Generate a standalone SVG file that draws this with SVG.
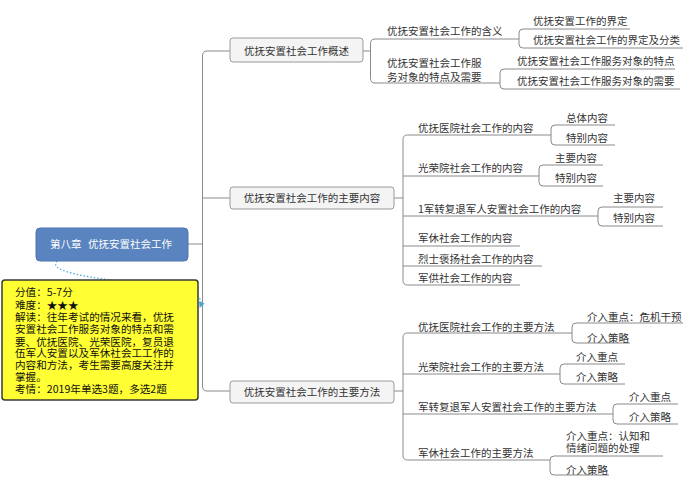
<svg xmlns="http://www.w3.org/2000/svg" width="694" height="481" viewBox="0 0 694 481">
<style>
text{font-family:"Noto Sans CJK SC","Noto Sans",sans-serif;font-size:10.5px;fill:#333}
.ln{fill:none;stroke:#8a8a8a;stroke-width:1}
.l1 rect{fill:#f4f4f4;stroke:#9a9a9a;stroke-width:1}
.note text{font-size:10.6px;fill:#111}
</style>
<defs>
<marker id="ah" markerWidth="6" markerHeight="6" refX="5" refY="3" orient="auto" markerUnits="userSpaceOnUse">
<path d="M0,0 L6,3 L0,6 Z" fill="#4aa3d8"/>
</marker>
</defs>
<rect width="694" height="481" fill="#fff"/>

<g id="connectors">
<path class="ln" d="M188 244 H202.5"/>
<path class="ln" d="M230 51 H207 Q202.5 51 202.5 56 V386 Q202.5 391 207 391 H230 M202.5 198 H230"/>
<path class="ln" d="M363 51 H370.5"/>
<path class="ln" d="M519 39 H375 Q370.5 39 370.5 43.5 V78.5 Q370.5 83 375 83 H500"/>
<path class="ln" d="M630 29 H523 Q519 29 519 33 V44 Q519 48 523 48 H683"/>
<path class="ln" d="M675 69 H504 Q500 69 500 73 V85 Q500 89 504 89 H680"/>
<path class="ln" d="M394 198 H403"/>
<path class="ln" d="M551 135 H407.5 Q403 135 403 139.5 V280.5 Q403 285 407.5 285 H520"/>
<path class="ln" d="M403 176 H539 M403 216 H598 M403 246 H520 M403 266 H542"/>
<path class="ln" d="M615 125 H555 Q551 125 551 129 V141 Q551 145 555 145 H615"/>
<path class="ln" d="M603 165 H543 Q539 165 539 169 V182 Q539 186 543 186 H603"/>
<path class="ln" d="M663 207 H602 Q598 207 598 211 V222 Q598 226 602 226 H663"/>
<path class="ln" d="M394 391 H403"/>
<path class="ln" d="M572 333 H407.5 Q403 333 403 337.5 V455.5 Q403 460 407.5 460 H550"/>
<path class="ln" d="M403 374 H560 M403 414 H613"/>
<path class="ln" d="M683 323 H576 Q572 323 572 327 V339 Q572 343 576 343 H630"/>
<path class="ln" d="M625 364 H564 Q560 364 560 368 V380 Q560 384 564 384 H625"/>
<path class="ln" d="M678 404 H617 Q613 404 613 408 V420 Q613 424 617 424 H678"/>
<path class="ln" d="M663 456 H554 Q550 456 550 460 V471 Q550 475 554 475 H609"/>
<path d="M57 261 C47 272, 90 278, 150 285 C190 290, 205 294, 200 307" fill="none" stroke="#4aa3d8" stroke-width="1.2" stroke-dasharray="1.5 2" marker-end="url(#ah)"/>
</g>

<g id="root">
<rect x="36" y="228" width="152" height="33" rx="4" fill="#5a84c0" stroke="#4d77b0"/>
<text x="50" y="248" style="fill:#fff">第八章</text>
<text x="88" y="248" style="fill:#fff">优抚安置社会工作</text>
</g>

<g id="note" class="note">
<rect x="2" y="280" width="196" height="120" rx="3" fill="#ffff33" stroke="#3a3a3a" stroke-width="1.5"/>
<text x="15" y="296">分值：5-7分</text>
<text x="15" y="309">难度：★★★</text>
<text x="15" y="321">解读：往年考试的情况来看，优抚</text>
<text x="15" y="333">安置社会工作服务对象的特点和需</text>
<text x="15" y="345.5">要、优抚医院、光荣医院，复员退</text>
<text x="15" y="357">伍军人安置以及军休社会工工作的</text>
<text x="15" y="369">内容和方法，考生需要高度关注并</text>
<text x="15" y="381">掌握。</text>
<text x="15" y="392.5">考情：2019年单选3题，多选2题</text>
</g>

<g id="n1" class="l1">
<rect x="230" y="38" width="133" height="24" rx="3"/>
<text x="296.5" y="55" text-anchor="middle">优抚安置社会工作概述</text>
</g>
<g id="n2" class="l1">
<rect x="230" y="187" width="164" height="22" rx="3"/>
<text x="312" y="202" text-anchor="middle">优抚安置社会工作的主要内容</text>
</g>
<g id="n3" class="l1">
<rect x="230" y="381" width="164" height="22" rx="3"/>
<text x="312" y="396" text-anchor="middle">优抚安置社会工作的主要方法</text>
</g>

<g id="n1a"><text x="387" y="35">优抚安置社会工作的含义</text></g>
<g id="n1a1"><text x="533" y="25">优抚安置工作的界定</text></g>
<g id="n1a2"><text x="533" y="44">优抚安置社会工作的界定及分类</text></g>
<g id="n1b"><text x="387" y="67">优抚安置社会工作服</text><text x="387" y="81">务对象的特点及需要</text></g>
<g id="n1b1"><text x="517" y="65">优抚安置社会工作服务对象的特点</text></g>
<g id="n1b2"><text x="517" y="85">优抚安置社会工作服务对象的需要</text></g>

<g id="n2a"><text x="418" y="132">优抚医院社会工作的内容</text></g>
<g id="n2a1"><text x="566" y="122">总体内容</text></g>
<g id="n2a2"><text x="566" y="142">特别内容</text></g>
<g id="n2b"><text x="418" y="172">光荣院社会工作的内容</text></g>
<g id="n2b1"><text x="555" y="162">主要内容</text></g>
<g id="n2b2"><text x="555" y="182">特别内容</text></g>
<g id="n2c"><text x="418" y="213">1军转复退军人安置社会工作的内容</text></g>
<g id="n2c1"><text x="613" y="202">主要内容</text></g>
<g id="n2c2"><text x="613" y="222">特别内容</text></g>
<g id="n2d"><text x="418" y="242">军休社会工作的内容</text></g>
<g id="n2e"><text x="418" y="263">烈士褒扬社会工作的内容</text></g>
<g id="n2f"><text x="418" y="282">军供社会工作的内容</text></g>

<g id="n3a"><text x="418" y="331">优抚医院社会工作的主要方法</text></g>
<g id="n3a1"><text x="587" y="321">介入重点：危机干预</text></g>
<g id="n3a2"><text x="587" y="342">介入策略</text></g>
<g id="n3b"><text x="418" y="371">光荣院社会工作的主要方法</text></g>
<g id="n3b1"><text x="576" y="361">介入重点</text></g>
<g id="n3b2"><text x="576" y="381">介入策略</text></g>
<g id="n3c"><text x="418" y="411">军转复退军人安置社会工作的主要方法</text></g>
<g id="n3c1"><text x="629" y="401">介入重点</text></g>
<g id="n3c2"><text x="629" y="421">介入策略</text></g>
<g id="n3d"><text x="418" y="457">军休社会工作的主要方法</text></g>
<g id="n3d1"><text x="566" y="440">介入重点：认知和</text><text x="566" y="452">情绪问题的处理</text></g>
<g id="n3d2"><text x="566" y="474">介入策略</text></g>
</svg>
